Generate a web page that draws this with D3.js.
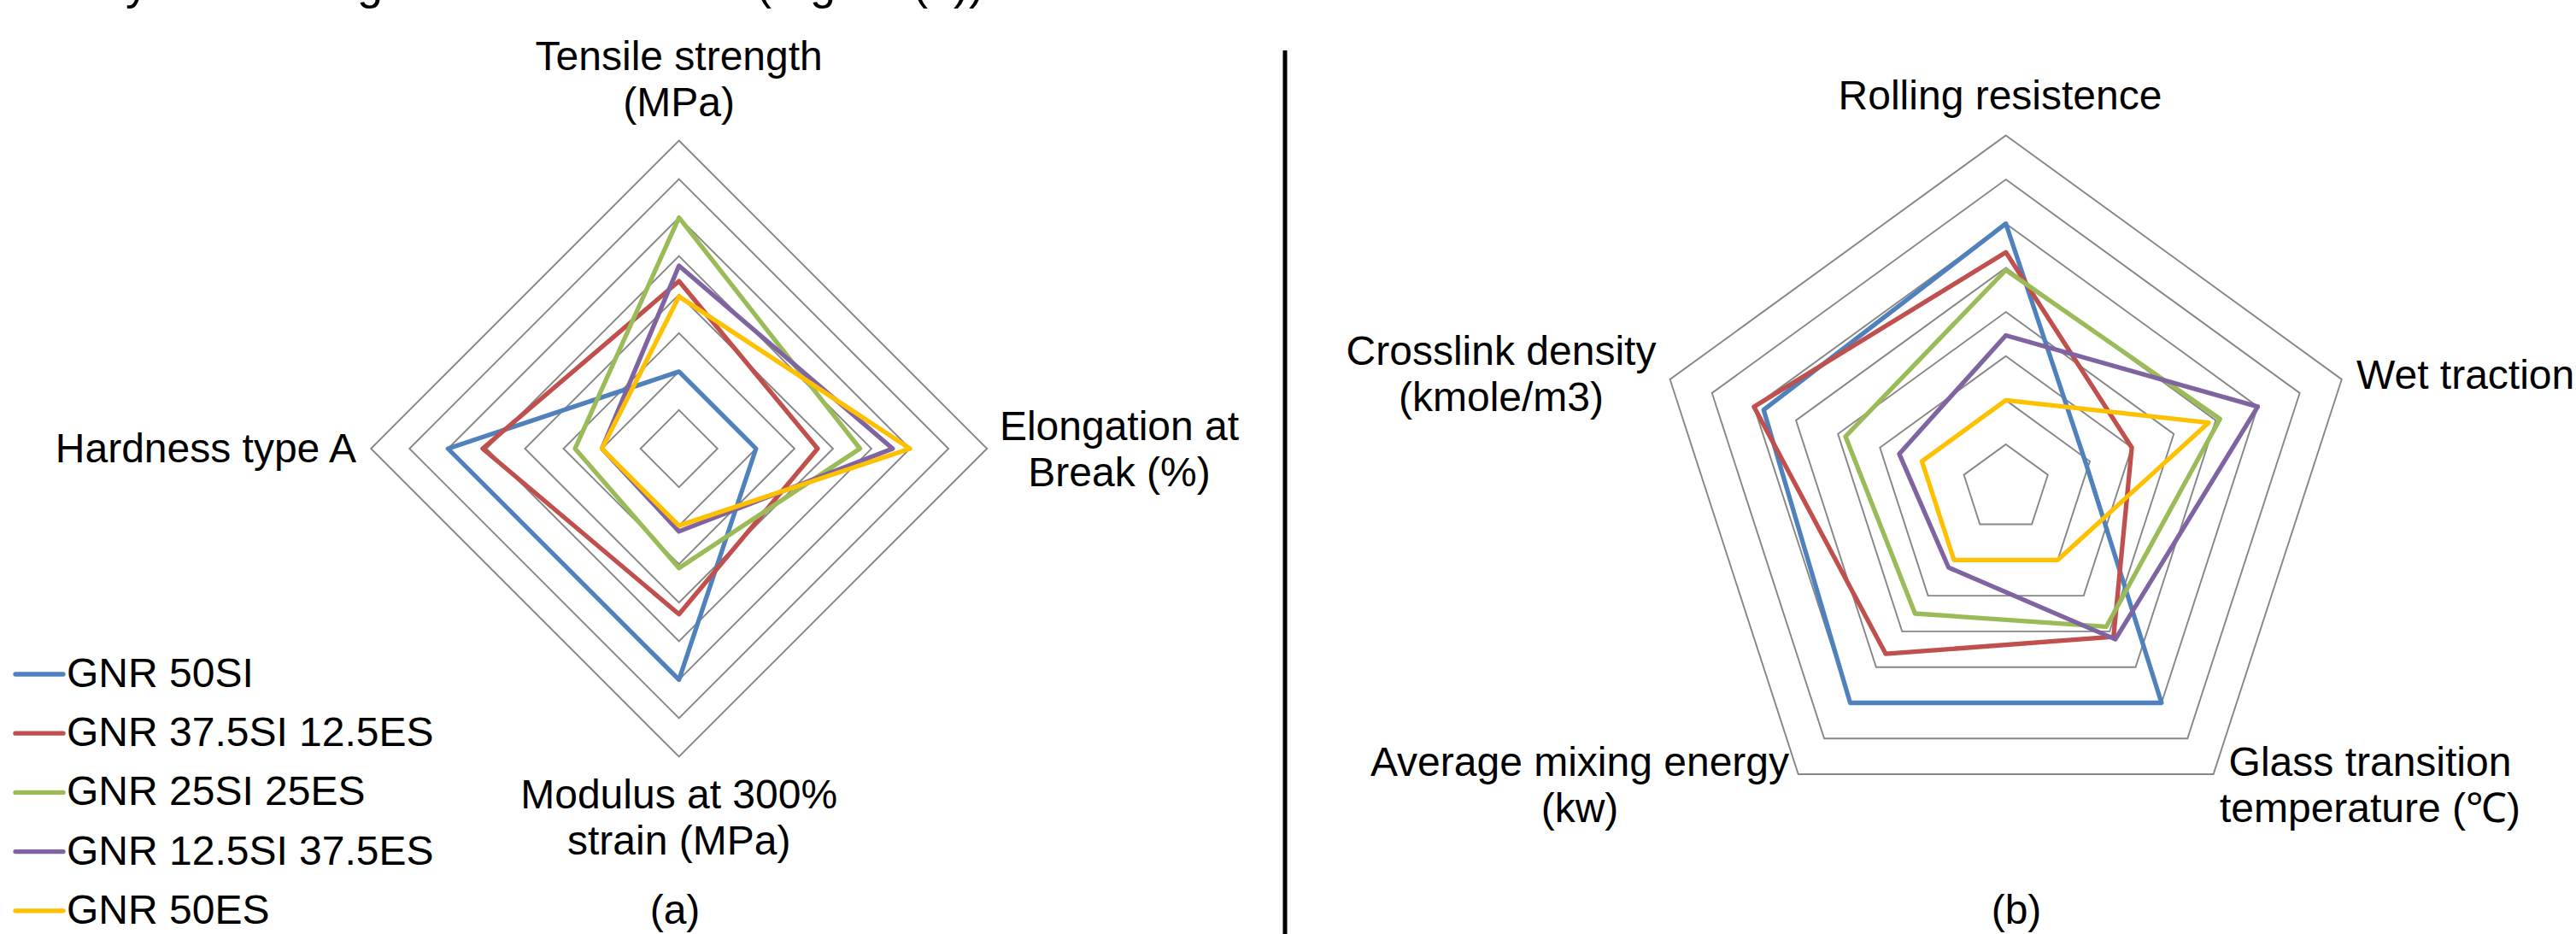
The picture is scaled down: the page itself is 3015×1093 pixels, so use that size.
<!DOCTYPE html>
<html>
<head>
<meta charset="utf-8">
<script src="https://cdn.jsdelivr.net/npm/d3@7"></script>
<style>
  html, body { margin: 0; padding: 0; background: #fff; overflow: hidden; }
  text { font-family: "Liberation Sans", Arial, Helvetica, sans-serif; fill: #000; }
</style>
</head>
<body>
<svg id="fig" width="3015" height="1093"></svg>
<script>
// ---- data -------------------------------------------------------------
const seriesNames = ["GNR 50SI", "GNR 37.5SI 12.5ES", "GNR 25SI 25ES", "GNR 12.5SI 37.5ES", "GNR 50ES"];

// (a) mechanical properties, normalised score (0-8), clockwise from top
const mechAxes = [
  ["Tensile strength", "(MPa)"],
  ["Elongation at", "Break (%)"],
  ["Modulus at 300%", "strain (MPa)"],
  ["Hardness type A"]
];
const mech50SI       = [2.0, 2.0, 6.0, 6.0];
const mech375SI125ES = [4.35, 3.6, 4.3, 5.1];
const mech25SI25ES   = [6.0, 4.7, 3.1, 2.7];
const mech125SI375ES = [4.75, 5.55, 2.15, 2.0];
const mech50ES       = [3.95, 6.0, 2.0, 2.0];

// (b) tyre / processing properties, normalised score (0-8), clockwise from top
const tireAxes = [
  ["Rolling resistence"],
  ["Wet traction"],
  ["Glass transition", "temperature (\u2103)"],
  ["Average mixing energy", "(kw)"],
  ["Crosslink density", "(kmole/m3)"]
];
const tire50SI       = [6.0, 1.9, 6.0, 6.0, 5.77];
const tire375SI125ES = [5.35, 3.0, 4.15, 4.63, 6.0];
const tire25SI25ES   = [4.95, 5.1, 3.87, 3.5, 3.82];
const tire125SI375ES = [3.47, 6.0, 4.22, 2.21, 2.54];
const tire50ES       = [2.0, 4.83, 2.0, 2.0, 2.0];

const ringLevels = [1, 2, 3, 4, 5, 6, 7, 8];

// ---- styling ----------------------------------------------------------
const seriesColors = ["#4F81BD", "#C0504D", "#9BBB59", "#8064A2", "#FFC000"];
const FONT_SIZE = 48;
const LINE_GAP = 54;

const svg = d3.select("#fig");
svg.append("rect").attr("width", 3015).attr("height", 1093).attr("fill", "#fff");

// running text line above the figure (only its lower edge falls inside the page)
const capY = -1;
const cap = svg.append("g").attr("font-size", 54);
cap.append("text").attr("x", 174).attr("y", capY).attr("text-anchor", "end").text("by");
cap.append("text").attr("x", 448).attr("y", capY).attr("text-anchor", "end").text("showing");
cap.append("text").attr("x", 885).attr("y", capY).text("(Fig. 10(a))");

function radar(cfg) {
  const g = svg.append("g").attr("transform", `translate(${cfg.cx},${cfg.cy})`);
  const n = cfg.axes.length;
  const r = d3.scaleLinear().domain([0, d3.max(ringLevels)]).range([0, cfg.radius]);
  const angle = i => i * 2 * Math.PI / n;
  const line = d3.lineRadial()
    .angle((d, i) => angle(i))
    .radius(d => r(d))
    .curve(d3.curveLinearClosed);

  // grid rings
  g.append("g").selectAll("path").data(ringLevels).join("path")
    .attr("d", k => line(d3.range(n).map(() => k)))
    .attr("fill", "none")
    .attr("stroke", "#868686")
    .attr("stroke-width", 1.9);

  // series
  g.append("g").selectAll("path").data(cfg.series).join("path")
    .attr("d", d => line(d))
    .attr("fill", "none")
    .attr("stroke", (d, i) => seriesColors[i])
    .attr("stroke-width", 5.3)
    .attr("stroke-linejoin", "round");

  // axis labels
  cfg.axes.forEach((lines, i) => {
    const lp = cfg.labelPos[i];
    const t = svg.append("text")
      .attr("font-size", FONT_SIZE)
      .attr("text-anchor", lp.anchor);
    lines.forEach((s, j) => {
      t.append("tspan").attr("x", lp.x).attr("y", lp.y + j * LINE_GAP).text(s);
    });
  });
}

radar({
  cx: 794.7, cy: 525, radius: 360.5,
  axes: mechAxes,
  series: [mech50SI, mech375SI125ES, mech25SI25ES, mech125SI375ES, mech50ES],
  labelPos: [
    { x: 794.7, y: 82, anchor: "middle" },
    { x: 1310, y: 515, anchor: "middle" },
    { x: 794.7, y: 946, anchor: "middle" },
    { x: 417, y: 541, anchor: "end" }
  ]
});

radar({
  cx: 2347.7, cy: 571.7, radius: 413.3,
  axes: tireAxes,
  series: [tire50SI, tire375SI125ES, tire25SI25ES, tire125SI375ES, tire50ES],
  labelPos: [
    { x: 2341, y: 128, anchor: "middle" },
    { x: 2758, y: 455, anchor: "start" },
    { x: 2774, y: 908, anchor: "middle" },
    { x: 1849, y: 908, anchor: "middle" },
    { x: 1757, y: 427, anchor: "middle" }
  ]
});

// panel captions
svg.append("text").attr("x", 790).attr("y", 1081).attr("font-size", FONT_SIZE)
  .attr("text-anchor", "middle").text("(a)");
svg.append("text").attr("x", 2360).attr("y", 1081).attr("font-size", FONT_SIZE)
  .attr("text-anchor", "middle").text("(b)");

// divider between the two panels
svg.append("line")
  .attr("x1", 1504).attr("x2", 1504).attr("y1", 59).attr("y2", 1093)
  .attr("stroke", "#000").attr("stroke-width", 5);

// legend (bottom left)
const legend = svg.append("g");
seriesNames.forEach((name, i) => {
  const y = 789 + i * 69.2;
  legend.append("line")
    .attr("x1", 18).attr("x2", 74).attr("y1", y).attr("y2", y)
    .attr("stroke", seriesColors[i]).attr("stroke-width", 5.3).attr("stroke-linecap", "round");
  legend.append("text")
    .attr("x", 78).attr("y", y + 15).attr("font-size", FONT_SIZE).text(name);
});
</script>
</body>
</html>
